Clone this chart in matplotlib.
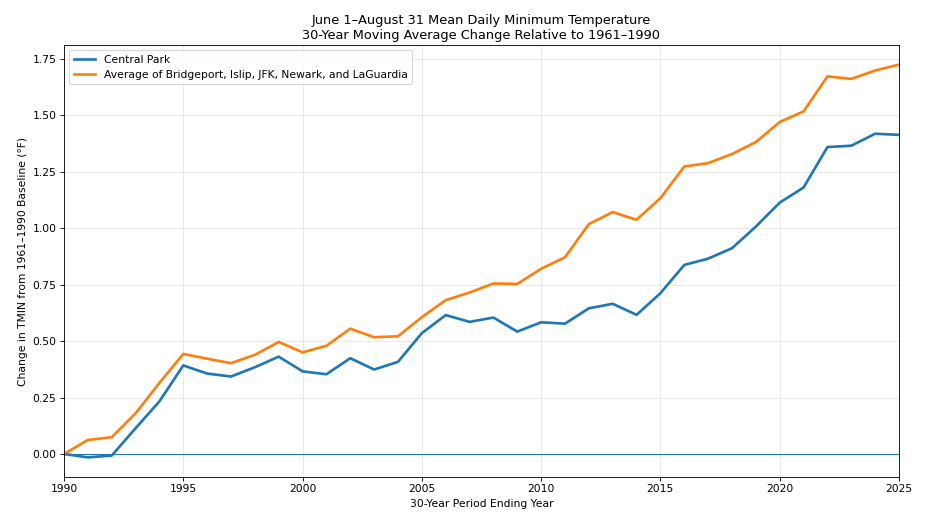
import matplotlib
matplotlib.use("Agg")
import matplotlib.pyplot as plt

years = list(range(1990, 2026))
central_park = [0.000, -0.015, -0.007, 0.114, 0.233, 0.392, 0.356, 0.343, 0.384, 0.431,
                0.366, 0.353, 0.424, 0.374, 0.408, 0.535, 0.615, 0.585, 0.604, 0.542,
                0.583, 0.577, 0.645, 0.665, 0.616, 0.712, 0.837, 0.865, 0.911, 1.007,
                1.113, 1.180, 1.359, 1.365, 1.418, 1.413]
regional_avg = [0.000, 0.062, 0.074, 0.180, 0.315, 0.443, 0.422, 0.402, 0.439, 0.496,
                0.450, 0.479, 0.555, 0.517, 0.521, 0.606, 0.681, 0.715, 0.755, 0.753,
                0.820, 0.871, 1.018, 1.071, 1.037, 1.133, 1.273, 1.288, 1.328, 1.381,
                1.470, 1.517, 1.672, 1.661, 1.698, 1.724]
labels = ["Central Park", "Average of Bridgeport, Islip, JFK, Newark, and LaGuardia"]

DPI = 77
fig = plt.figure(figsize=(926/DPI, 529/DPI), dpi=DPI)
ax = fig.add_axes([64/926, 1 - 477/529, (899-64)/926, (477-45)/529])
ax.plot(years, central_park, color="#1f77b4", linewidth=2.5, label=labels[0])
ax.plot(years, regional_avg, color="#ff7f0e", linewidth=2.5, label=labels[1])
ax.axhline(0, color="#1f77b4", linewidth=1)
ax.set_xlim(1990, 2025)
ax.grid(True, alpha=0.3)
ax.set_yticks([0, 0.25, 0.5, 0.75, 1.0, 1.25, 1.5, 1.75])
ax.yaxis.set_major_formatter(matplotlib.ticker.FormatStrFormatter("%.2f"))
ax.set_xlabel("30-Year Period Ending Year")
ax.set_ylabel("Change in TMIN from 1961–1990 Baseline (°F)")
ax.set_title("June 1–August 31 Mean Daily Minimum Temperature\n30-Year Moving Average Change Relative to 1961–1990")
ax.legend(loc="upper left")
fig.savefig("out.png", dpi=DPI)
